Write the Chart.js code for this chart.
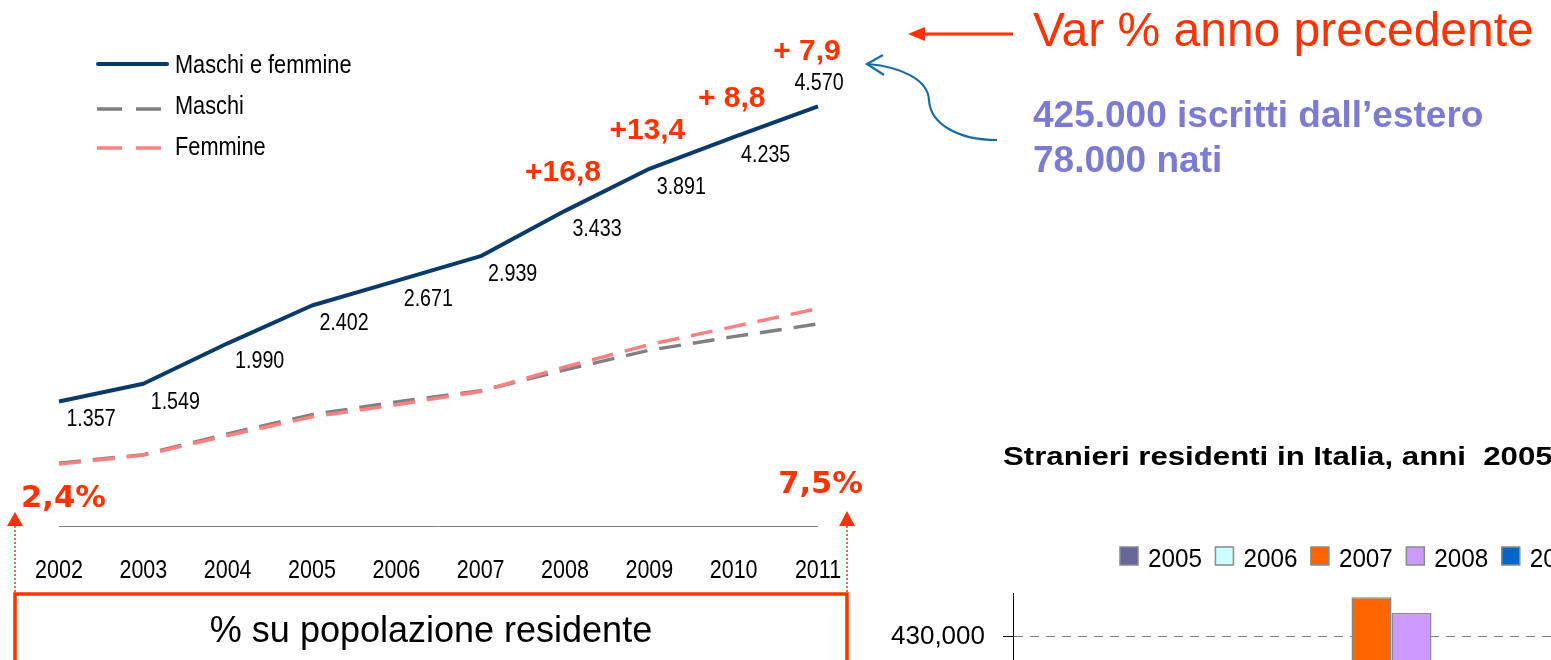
<!DOCTYPE html>
<html lang="it">
<head>
<meta charset="utf-8">
<title>Stranieri residenti in Italia</title>
<script src="https://cdn.jsdelivr.net/npm/chart.js@4.4.1/dist/chart.umd.min.js"></script>
<style>
  html, body { margin: 0; padding: 0; background: #fff; overflow: hidden; width: 1551px; height: 660px; }
  #main { position: absolute; left: 0; top: 0; }
  #bars { position: absolute; left: 860px; top: 430px; }
</style>
</head>
<body>
<canvas id="main" width="1551" height="660"></canvas>
<canvas id="bars" width="870" height="500"></canvas>
<script>
// stranieri residenti, migliaia
const years = ['2002', '2003', '2004', '2005', '2006', '2007', '2008', '2009', '2010', '2011'];
const totale = [1357, 1549, 1990, 2402, 2671, 2939, 3433, 3891, 4235, 4570];
const maschi = [683, 777, 1004, 1213, 1350, 1473, 1701, 1915, 2063, 2201];
const femmine = [674, 772, 986, 1189, 1321, 1466, 1732, 1976, 2172, 2369];
// var % anno precedente (solo ultimi anni)
const varPct = [null, null, null, null, null, null, 16.8, 13.4, 8.8, 7.9];
const pctPrimo = '2,4%';
const pctUltimo = '7,5%';

// grafico a barre in basso a destra (solo in parte visibile)
const barYears = ['2005', '2006', '2007', '2008', '2009'];
const barGroups = ['A', 'B', 'C'];
const bar2005 = [405000, 412000, 401000];
const bar2006 = [409000, 419000, 403000];
const bar2007 = [414000, 434500, 406000];
const bar2008 = [417000, 432700, 408000];
const bar2009 = [420000, 424000, 410000];
const barTicks = [400000, 410000, 420000, 430000];
const barColors = ['#666699', '#ccffff', '#ff6600', '#cc99ff', '#0066cc'];

const RED = '#ff3300';
const NAVY = '#0a3a6a';

function txt(ctx, s, x, y, font, color, align, sx) {
    ctx.save();
    ctx.font = font;
    ctx.fillStyle = color;
    ctx.textAlign = align;
    ctx.textBaseline = 'alphabetic';
    ctx.translate(x, y);
    ctx.scale(sx, 1);
    ctx.fillText(s, 0, 0);
    ctx.restore();
}

const fmtMigliaia = v => Math.floor(v / 1000) + '.' + String(v % 1000).padStart(3, '0');
const fmtVar = v => '+' + (v < 10 ? ' ' : '') + v.toFixed(1).replace('.', ',');

function upArrow(ctx, x, tipY, baseY, bottomY) {
    ctx.save();
    ctx.strokeStyle = RED;
    ctx.fillStyle = RED;
    ctx.lineWidth = 1.5;
    ctx.setLineDash([2, 2]);
    ctx.beginPath();
    ctx.moveTo(x, baseY);
    ctx.lineTo(x, bottomY);
    ctx.stroke();
    ctx.setLineDash([]);
    ctx.beginPath();
    ctx.moveTo(x, tipY);
    ctx.lineTo(x - 8, baseY);
    ctx.lineTo(x + 8, baseY);
    ctx.closePath();
    ctx.fill();
    ctx.restore();
}

const annotazioni = {
    id: 'annotazioni',
    afterDatasetsDraw(chart) {
        const { ctx, scales: { x, y } } = chart;
        const y0 = y.getPixelForValue(0);
        const narrow = '"Liberation Sans", Arial, sans-serif';

        // asse orizzontale
        ctx.save();
        ctx.strokeStyle = '#808080';
        ctx.lineWidth = 1;
        ctx.beginPath();
        ctx.moveTo(x.left, Math.round(y0) + 0.5);
        ctx.lineTo(x.right, Math.round(y0) + 0.5);
        ctx.stroke();
        ctx.restore();

        // anni
        years.forEach((yr, i) => {
            txt(ctx, yr, x.getPixelForValue(i), y0 + 52, '25px ' + narrow, '#000', 'center', 0.86);
        });

        // etichette dei valori e variazioni
        const last = totale.length - 1;
        totale.forEach((v, i) => {
            const px = x.getPixelForValue(i);
            const py = y.getPixelForValue(v);
            if (i === last) {
                txt(ctx, fmtMigliaia(v), px + 1, py - 16, '24px ' + narrow, '#000', 'center', 0.82);
            } else {
                txt(ctx, fmtMigliaia(v), px + 32, py + 25, '24px ' + narrow, '#000', 'center', 0.82);
            }
            if (varPct[i] != null) {
                const vx = i === last ? px - 11 : px - 2;
                const vy = i === last ? py - 46 : py - 30;
                txt(ctx, fmtVar(varPct[i]), vx, vy, 'bold 30px ' + narrow, RED, 'center', 1);
            }
        });

        // legenda
        const rows = [64, 109, 148];
        const baselines = [73, 114, 155];
        chart.data.datasets.forEach((ds, k) => {
            ctx.save();
            ctx.strokeStyle = ds.borderColor;
            ctx.lineWidth = ds.borderWidth;
            ctx.lineCap = k === 0 ? 'round' : 'butt';
            ctx.beginPath();
            if (k === 0) {
                ctx.moveTo(98, rows[k]);
                ctx.lineTo(167, rows[k]);
            } else {
                ctx.moveTo(97, rows[k]); ctx.lineTo(122, rows[k]);
                ctx.moveTo(136, rows[k]); ctx.lineTo(161, rows[k]);
            }
            ctx.stroke();
            ctx.restore();
            txt(ctx, ds.label, 175, baselines[k], '25px ' + narrow, '#000', 'left', 0.87);
        });

        // percentuali sulla popolazione
        txt(ctx, pctPrimo, 21, 507, 'bold 30px "DejaVu Sans", Verdana, sans-serif', RED, 'left', 1.02);
        txt(ctx, pctUltimo, 863, 493, 'bold 30px "DejaVu Sans", Verdana, sans-serif', RED, 'right', 1.02);
        upArrow(ctx, 15, 512, 526, 594);
        upArrow(ctx, 847, 511, 526, 594);

        ctx.save();
        ctx.strokeStyle = RED;
        ctx.lineWidth = 3.5;
        ctx.strokeRect(15, 594, 832, 120);
        ctx.restore();
        txt(ctx, '% su popolazione residente', 431, 642, '36px ' + narrow, '#000', 'center', 1);

        // var % anno precedente
        txt(ctx, 'Var % anno precedente', 1033, 46, '48px ' + narrow, RED, 'left', 1);
        ctx.save();
        ctx.strokeStyle = RED;
        ctx.fillStyle = RED;
        ctx.lineWidth = 3;
        ctx.beginPath();
        ctx.moveTo(922, 34);
        ctx.lineTo(1013, 34);
        ctx.stroke();
        ctx.beginPath();
        ctx.moveTo(908, 34);
        ctx.lineTo(925, 27);
        ctx.lineTo(925, 41);
        ctx.closePath();
        ctx.fill();
        ctx.restore();

        // iscritti dall'estero
        txt(ctx, '425.000 iscritti dall\u2019estero', 1033, 127, 'bold 37px ' + narrow, '#7b7bd4', 'left', 1);
        txt(ctx, '78.000 nati', 1033, 172, 'bold 37px ' + narrow, '#7b7bd4', 'left', 1);

        ctx.save();
        ctx.strokeStyle = '#1b6c9e';
        ctx.lineWidth = 2.2;
        ctx.beginPath();
        ctx.moveTo(997, 140);
        ctx.bezierCurveTo(955, 140, 930, 122, 929, 100);
        ctx.bezierCurveTo(928, 80, 902, 67, 868, 64);
        ctx.stroke();
        ctx.beginPath();
        ctx.moveTo(883, 55);
        ctx.lineTo(867, 64);
        ctx.lineTo(884, 75);
        ctx.stroke();
        ctx.restore();
    }
};

new Chart(document.getElementById('main'), {
    type: 'line',
    data: {
        labels: years,
        datasets: [
            { label: 'Maschi e femmine', data: totale, borderColor: NAVY, borderWidth: 4, order: 0 },
            { label: 'Maschi', data: maschi, borderColor: '#808080', borderWidth: 3.5, borderDash: [22, 12], order: 2 },
            { label: 'Femmine', data: femmine, borderColor: '#ff8080', borderWidth: 3.5, borderDash: [22, 12], order: 1 }
        ]
    },
    options: {
        responsive: false,
        animation: false,
        layout: { padding: { left: 59, right: 733, top: 67, bottom: 134 } },
        elements: { point: { radius: 0 }, line: { tension: 0, borderJoinStyle: 'round' } },
        plugins: { legend: { display: false }, tooltip: { enabled: false } },
        scales: {
            x: { display: false },
            y: { display: false, min: 0, max: 5000 }
        }
    },
    plugins: [annotazioni]
});

const barSeries = [bar2005, bar2006, bar2007, bar2008, bar2009];

const titoloLegenda = {
    id: 'titoloLegenda',
    afterDraw(chart) {
        const { ctx } = chart;
        txt(ctx, 'Stranieri residenti in Italia, anni  2005-2009', 143, 35,
            'bold 26px "Liberation Sans", Arial, sans-serif', '#000', 'left', 1.2);
        let lx = 260;
        ctx.save();
        ctx.font = '25px "Liberation Sans", Arial, sans-serif';
        chart.data.datasets.forEach(ds => {
            ctx.fillStyle = ds.backgroundColor;
            ctx.fillRect(lx, 117, 18, 18);
            ctx.strokeStyle = '#8a8a8a';
            ctx.lineWidth = 1.5;
            ctx.strokeRect(lx, 117, 18, 18);
            const w = ctx.measureText(ds.label).width * 0.97;
            txt(ctx, ds.label, lx + 28, 137, '25px "Liberation Sans", Arial, sans-serif', '#000', 'left', 0.97);
            lx += 28 + w + 13.5;
        });
        ctx.restore();
    }
};

new Chart(document.getElementById('bars'), {
    type: 'bar',
    data: {
        labels: barGroups,
        datasets: barYears.map((yr, k) => ({
            label: yr,
            data: barSeries[k],
            backgroundColor: barColors[k],
            borderColor: '#8a8a8a',
            borderWidth: 1.5,
            barPercentage: 1,
            categoryPercentage: 0.837
        }))
    },
    options: {
        responsive: false,
        animation: false,
        locale: 'en-US',
        layout: { padding: { left: 0, right: 0, top: 163, bottom: 29 } },
        plugins: { legend: { display: false }, tooltip: { enabled: false } },
        scales: {
            x: { display: false },
            y: {
                min: 400000,
                max: 435000,
                afterFit: scale => { scale.width = 153; },
                afterBuildTicks: scale => { scale.ticks = barTicks.map(v => ({ value: v })); },
                ticks: {
                    autoSkip: false,
                    padding: 18,
                    color: '#000',
                    font: { size: 26, family: '"Liberation Sans", Arial, sans-serif' }
                },
                grid: { color: '#808080', lineWidth: 1, tickLength: 10, tickColor: '#000', tickBorderDash: [] },
                border: { display: true, color: '#000', width: 1, dash: [9, 7] }
            }
        }
    },
    plugins: [titoloLegenda]
});
</script>
</body>
</html>
